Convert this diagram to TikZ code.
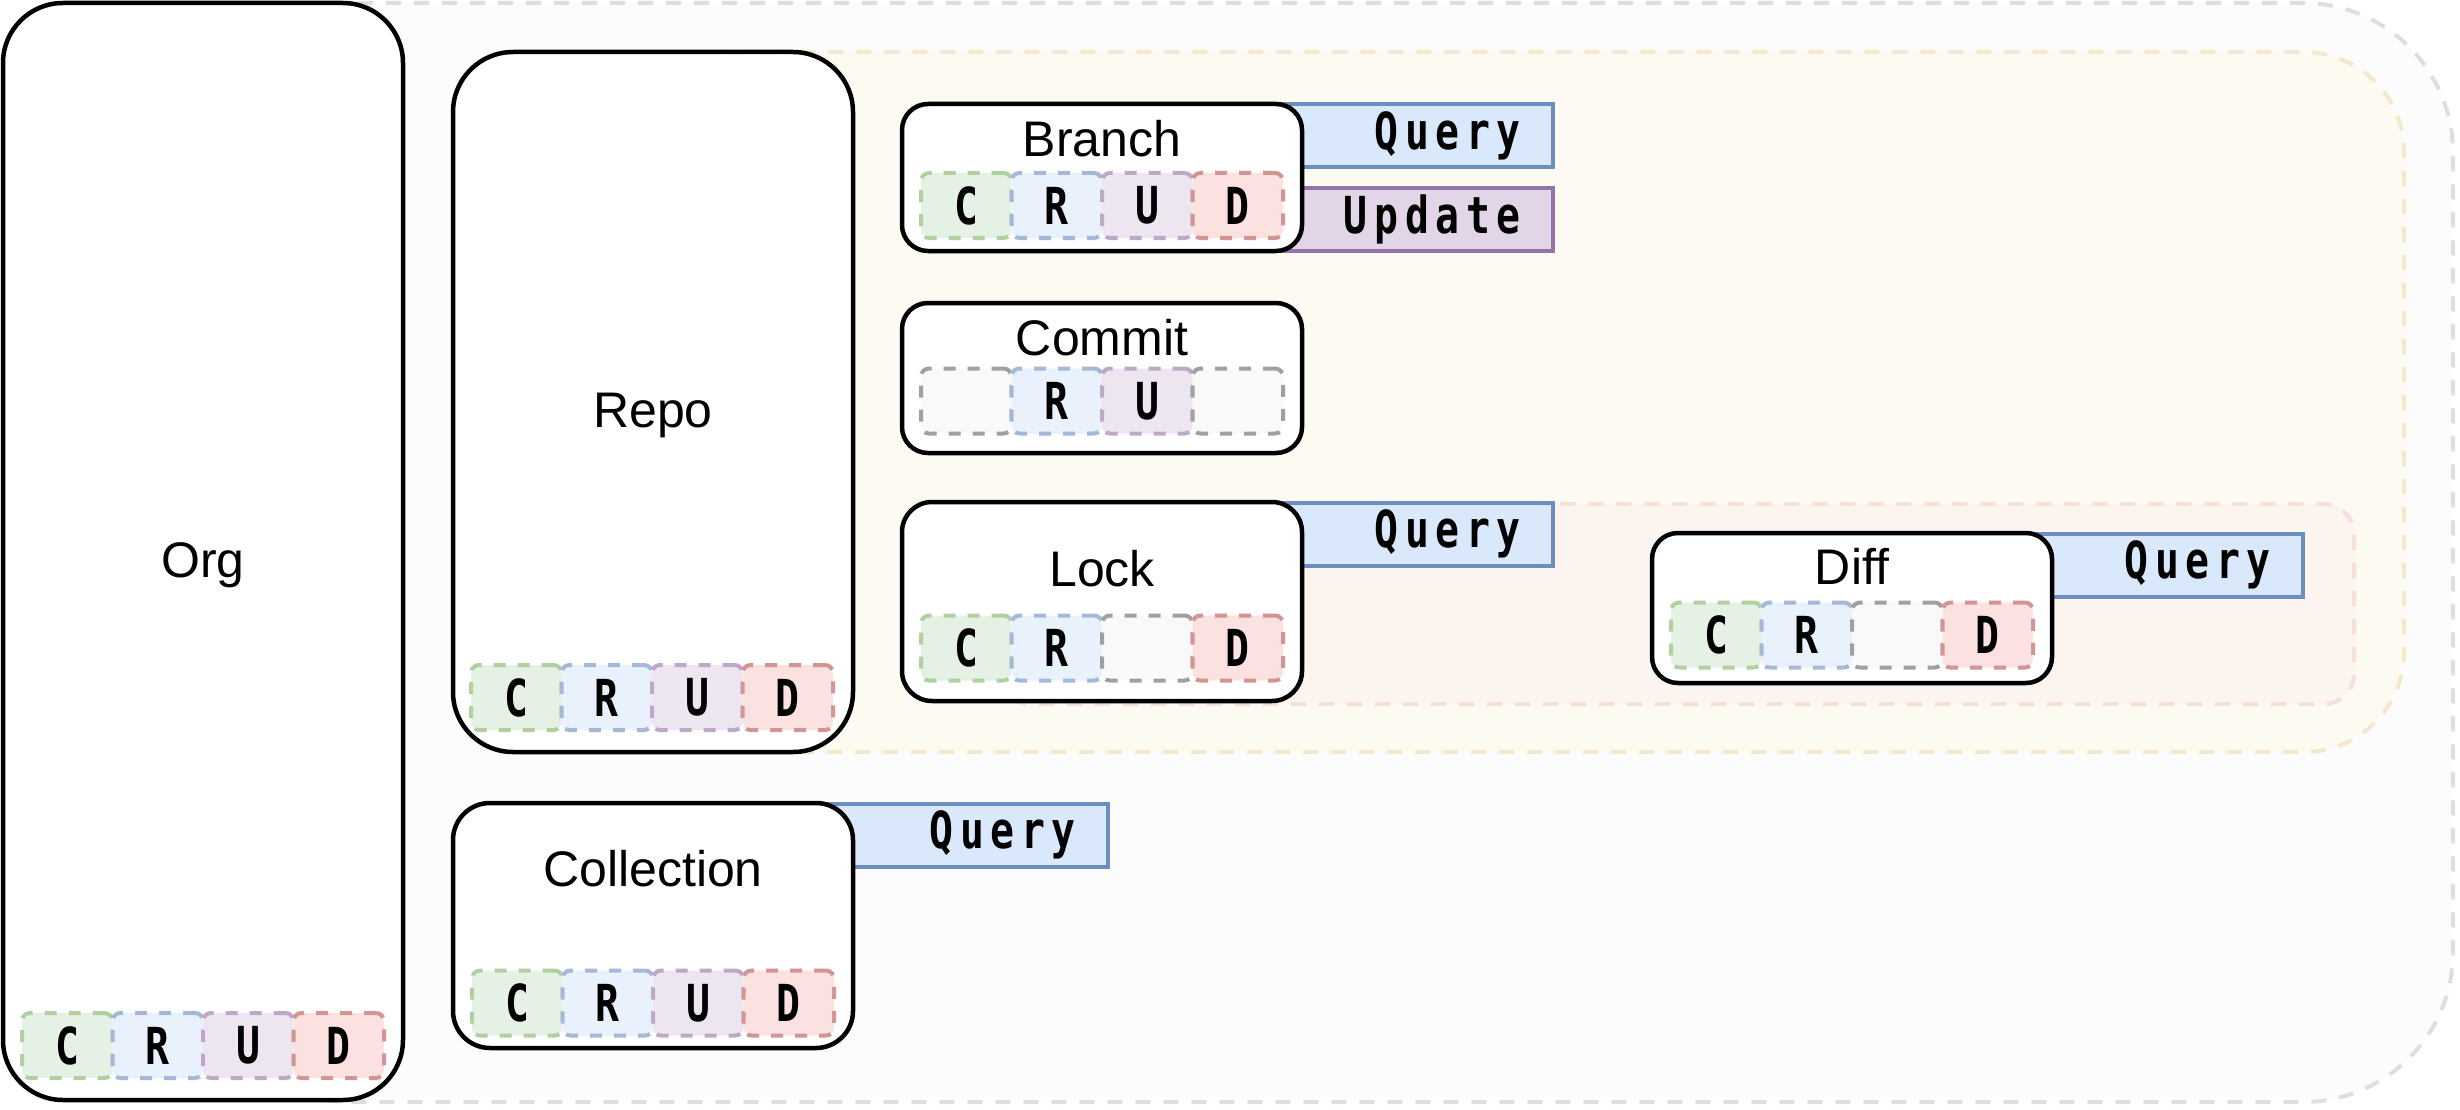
\documentclass[tikz,border=0pt]{standalone}
\usepackage{fontspec}
\newfontfamily\labfont{Liberation Sans}
\newfontfamily\crudfont[FakeStretch=0.78,LetterSpace=13]{DejaVu Sans Mono}
\usetikzlibrary{calc}
\definecolor{cCf}{HTML}{D5E8D4}\definecolor{cCd}{HTML}{82B366}
\definecolor{cRf}{HTML}{DAE8FC}\definecolor{cRd}{HTML}{6C8EBF}
\definecolor{cUf}{HTML}{E1D5E7}\definecolor{cUd}{HTML}{9673A6}
\definecolor{cDf}{HTML}{F8CECC}\definecolor{cDd}{HTML}{B85450}
\definecolor{cNf}{HTML}{F5F5F5}\definecolor{cNd}{HTML}{666666}
\definecolor{grayFill}{RGB}{252,252,252}\definecolor{grayLine}{RGB}{222,222,222}
\definecolor{yelFill}{RGB}{253,250,242}\definecolor{yelLine}{RGB}{245,232,205}
\definecolor{pinkFill}{RGB}{252,244,239}\definecolor{pinkLine}{RGB}{245,223,215}
\tikzset{
  entity/.style={draw=black, line width=4.5pt, fill=white, inner sep=0pt, outer sep=0pt, minimum width=400pt},
  lab/.style={font=\labfont\fontsize{50}{60}\selectfont, inner sep=0pt, text depth=0pt},
  cell/.style={line width=4pt, dash pattern=on 12pt off 12pt, rounded corners=8pt,
    minimum width=90.5pt, minimum height=65pt, inner sep=0pt,
    font=\crudfont\bfseries\fontsize{51}{60}\selectfont},
  cellC/.style={fill=cCf!60!white, draw=cCd!62!white},
  cellR/.style={fill=cRf!60!white, draw=cRd!62!white},
  cellU/.style={fill=cUf!60!white, draw=cUd!62!white},
  cellD/.style={fill=cDf!60!white, draw=cDd!62!white},
  cellN/.style={fill=cNf!60!white, draw=cNd!62!white},
  qbox/.style={fill=cRf, draw=cRd, line width=4pt, inner sep=0pt, minimum height=63pt},
  ubox/.style={fill=cUf, draw=cUd, line width=4pt, inner sep=0pt, minimum height=63pt},
  qtext/.style={font=\crudfont\bfseries\fontsize{51}{60}\selectfont, inner sep=0pt, anchor=east},
  region/.style={line width=4pt, dash pattern=on 15pt off 13pt}
}
\newcommand\crudrow[7]{%
  \node[cell,cell#4] (#1c) at ({#2+45.25},#3) {\ifx N#4\else #4\fi};
  \node[cell,cell#5] (#1r) at ({#2+135.75},#3) {\ifx N#5\else #5\fi};
  \node[cell,cell#6] (#1u) at ({#2+226.25},#3) {\ifx N#6\else #6\fi};
  \node[cell,cell#7] (#1d) at ({#2+316.75},#3) {\ifx N#7\else #7\fi};
}
\begin{document}
\begin{tikzpicture}[x=1pt,y=-1pt]
\useasboundingbox (0,0) rectangle (2460,1110);
% group regions
\draw[region, draw=grayLine, fill=grayFill, rounded corners=150pt] (200,3) rectangle (2453,1102);
\draw[region, draw=yelLine, fill=yelFill, rounded corners=100pt] (600,52) rectangle (2404,752);
\draw[region, draw=pinkLine, fill=pinkFill, rounded corners=30pt] (1000,504) rectangle (2354,704);
% query / update tabs
\node[qbox, minimum width=311pt] (branchQ) at (1397.5,135.5) {};
\node[ubox, minimum width=311pt] (branchU) at (1397.5,219.5) {};
\node[qbox, minimum width=311pt] (lockQ) at (1397.5,534) {};
\node[qbox, minimum width=311pt] (diffQ) at (2147.5,565) {};
\node[qbox, minimum width=316pt] (collQ) at (950,835) {};
\node[qtext] (branchQt) at ($(branchQ.east)+(-34,0)$) {Query};
\node[qtext] (branchUt) at ($(branchU.east)+(-34,0)$) {Update};
\node[qtext] (lockQt) at ($(lockQ.east)+(-34,0)$) {Query};
\node[qtext] (diffQt) at ($(diffQ.east)+(-34,0)$) {Query};
\node[qtext] (collQt) at ($(collQ.east)+(-34,0)$) {Query};
% entities
\node[entity, minimum height=1097pt, rounded corners=60pt] (org) at (203,551.5) {};
\node[entity, minimum height=700pt, rounded corners=60pt] (repo) at (653,402) {};
\node[entity, minimum height=245pt, rounded corners=37pt] (coll) at (653,925.5) {};
\node[entity, minimum height=147pt, rounded corners=26pt] (branch) at (1102,177.5) {};
\node[entity, minimum height=150pt, rounded corners=26pt] (commit) at (1102,378) {};
\node[entity, minimum height=199pt, rounded corners=30pt] (lock) at (1102,601.5) {};
\node[entity, minimum height=150pt, rounded corners=26pt] (diff) at (1852,608) {};
% labels
\node[lab] (orgL) at (203,560) {Org};
\node[lab] (repoL) at (653,410) {Repo};
\node[lab] (collL) at (653,868) {Collection};
\node[lab] (branchL) at (1102,138) {Branch};
\node[lab] (commitL) at (1102,337) {Commit};
\node[lab] (lockL) at (1102,568) {Lock};
\node[lab] (diffL) at (1852,566) {Diff};
% CRUD rows
\crudrow{org}{22}{1045.5}{C}{R}{U}{D}
\crudrow{repo}{471}{697.5}{C}{R}{U}{D}
\crudrow{coll}{472}{1003}{C}{R}{U}{D}
\crudrow{branch}{921}{205.5}{C}{R}{U}{D}
\crudrow{commit}{921}{401}{N}{R}{U}{N}
\crudrow{lock}{921}{648}{C}{R}{N}{D}
\crudrow{diff}{1671}{635}{C}{R}{N}{D}
\end{tikzpicture}
\end{document}
